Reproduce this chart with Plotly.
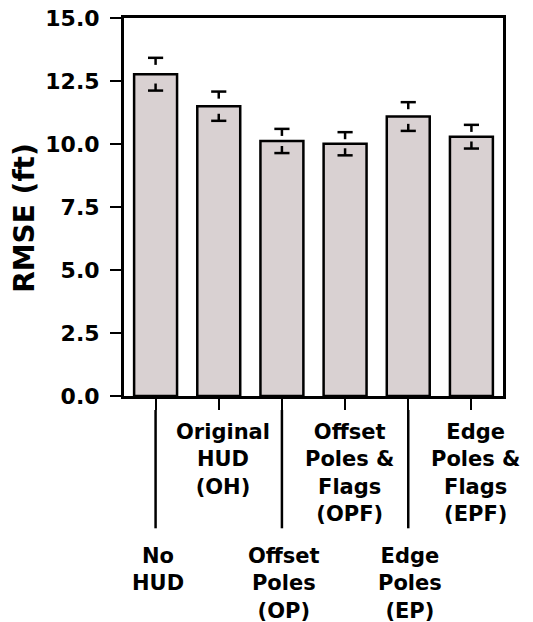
import plotly.graph_objects as go

# ---- data ----
label_lines = [
    ["No", "HUD"],
    ["Original", "HUD", "(OH)"],
    ["Offset", "Poles", "(OP)"],
    ["Offset", "Poles &", "Flags", "(OPF)"],
    ["Edge", "Poles", "(EP)"],
    ["Edge", "Poles &", "Flags", "(EPF)"],
]
label_row = [1, 0, 1, 0, 1, 0]          # 0 = upper row, 1 = lower (staggered) row
rmse_mean = [12.77, 11.50, 10.12, 10.01, 11.09, 10.29]
rmse_err = [0.65, 0.58, 0.48, 0.46, 0.57, 0.47]
y_ticks = [0.0, 2.5, 5.0, 7.5, 10.0, 12.5, 15.0]

# ---- style ----
FONT = "DejaVu Sans"
BAR_FILL = "#d9d1d2"
cap_half = 0.12     # half cap width in category units
stub = 0.28         # whisker stub length in data units

x_idx = list(range(len(rmse_mean)))

fig = go.Figure()
fig.add_trace(go.Bar(
    x=x_idx, y=rmse_mean, width=0.68,
    marker=dict(color=BAR_FILL, line=dict(color="black", width=2.5)),
    showlegend=False, hoverinfo="skip",
))

# error bar glyphs (cap + short stub) derived from mean/err
ex, ey = [], []
for i, (m, e) in enumerate(zip(rmse_mean, rmse_err)):
    hi, lo = m + e, m - e
    ex += [i - cap_half, i + cap_half, None, i, i, None]
    ey += [hi, hi, None, hi, hi - stub, None]
    ex += [i - cap_half, i + cap_half, None, i, i, None]
    ey += [lo, lo, None, lo, lo + stub, None]
fig.add_trace(go.Scatter(
    x=ex, y=ey, mode="lines", line=dict(color="black", width=2.5),
    showlegend=False, hoverinfo="skip", connectgaps=False,
))

annotations = []
shapes = []
for i, (lines, row) in enumerate(zip(label_lines, label_row)):
    annotations.append(dict(
        x=i, xref="x", y=-0.058 if row == 0 else -0.387, yref="paper",
        text="<br>".join(lines), showarrow=False,
        xanchor="center", yanchor="top", align="center",
        font=dict(family=FONT, size=21, color="black", weight="bold"),
        xshift=4 if row == 0 else 2,
    ))
    if row == 1:
        shapes.append(dict(
            type="line", xref="x", yref="paper",
            x0=i, x1=i, y0=-0.037, y1=-0.35,
            line=dict(color="black", width=2.5),
        ))

annotations.append(dict(
    x=-0.261, xref="paper", y=0.4715, yref="paper",
    text="RMSE (ft)", textangle=-90, showarrow=False,
    xanchor="center", yanchor="middle",
    font=dict(family=FONT, size=28, color="black", weight="bold"),
))

fig.update_layout(
    width=533, height=622,
    margin=dict(l=124, r=30, t=18, b=226),
    paper_bgcolor="white", plot_bgcolor="white",
    font=dict(family=FONT, size=21, color="black", weight="bold"),
    annotations=annotations, shapes=shapes,
    xaxis=dict(
        range=[-0.5, 5.5], tickvals=x_idx, ticktext=[""] * len(x_idx),
        ticks="outside", ticklen=11, tickwidth=2, tickcolor="black",
        showline=True, linewidth=3, linecolor="black", mirror=True,
        showgrid=False, zeroline=False, fixedrange=True, automargin=False,
    ),
    yaxis=dict(
        range=[0, 15], tickvals=y_ticks, tickformat=".1f",
        ticks="outside", ticklen=11, tickwidth=2, tickcolor="black",
        ticklabelstandoff=6,
        tickfont=dict(family=FONT, size=22, color="black", weight="bold"),
        showline=True, linewidth=3, linecolor="black", mirror=True,
        showgrid=False, zeroline=False, fixedrange=True, automargin=False,
    ),
)

fig.write_html(
    "out.html",
    config={"displayModeBar": False},
    post_script="document.body.style.margin='0';document.body.style.padding='0';",
)
